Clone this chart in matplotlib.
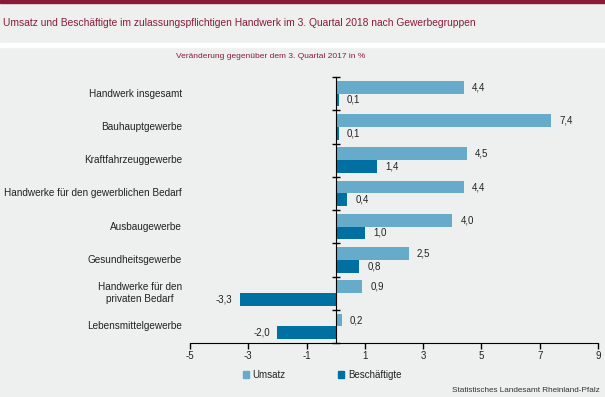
import matplotlib.pyplot as plt
from matplotlib.patches import Patch
from matplotlib.transforms import blended_transform_factory

plt.rcParams["font.family"] = ["Liberation Sans", "DejaVu Sans"]

categories = [
    "Handwerk insgesamt",
    "Bauhauptgewerbe",
    "Kraftfahrzeuggewerbe",
    "Handwerke für den gewerblichen Bedarf",
    "Ausbaugewerbe",
    "Gesundheitsgewerbe",
    "Handwerke für den\nprivaten Bedarf",
    "Lebensmittelgewerbe",
]
umsatz = [4.4, 7.4, 4.5, 4.4, 4.0, 2.5, 0.9, 0.2]
beschaeftigte = [0.1, 0.1, 1.4, 0.4, 1.0, 0.8, -3.3, -2.0]
x_ticks = [-5, -3, -1, 1, 3, 5, 7, 9]

BG = "#eef0f0"
RED = "#8b1a38"
LIGHT = "#67abca"
DARK = "#0070a3"
TXT = "#222222"

fig = plt.figure(figsize=(6.05, 3.97), dpi=100, facecolor=BG)

# top band and white separator
fig.add_artist(plt.Rectangle((0, 1 - 3 / 397), 1, 3 / 397, transform=fig.transFigure, color=RED))
fig.add_artist(plt.Rectangle((0, 1 - 47 / 397), 1, 4 / 397, transform=fig.transFigure, color="white"))

fig.text(3 / 605, 1 - 23 / 397, "Umsatz und Beschäftigte im zulassungspflichtigen Handwerk im 3. Quartal 2018 nach Gewerbegruppen",
         color=RED, fontsize=7.35, va="center", ha="left")
fig.text(271 / 605, 1 - 57 / 397, "Veränderung gegenüber dem 3. Quartal 2017 in %",
         color=RED, fontsize=6, va="center", ha="center")

ax = fig.add_axes([190 / 605, 1 - 343 / 397, 408 / 605, 266 / 397])
ax.set_facecolor(BG)

y = list(range(len(categories)))
h = 0.38
ax.barh([i - h / 2 for i in y], umsatz, height=h, color=LIGHT)
ax.barh([i + h / 2 for i in y], beschaeftigte, height=h, color=DARK)

def fmt(v):
    return f"{v:.1f}".replace(".", ",")

for i, v in enumerate(umsatz):
    ax.annotate(fmt(v), (v, i - h / 2), xytext=(6, 0), textcoords="offset points",
                va="center", ha="left", fontsize=7, color=TXT)
for i, v in enumerate(beschaeftigte):
    off = 6 if v >= 0 else -5
    ax.annotate(fmt(v), (v, i + h / 2), xytext=(off, 0), textcoords="offset points",
                va="center", ha="left" if v >= 0 else "right", fontsize=7, color=TXT)

ax.set_xlim(-5, 9)
ax.set_ylim(len(categories) - 0.5, -0.5)
ax.set_xticks(x_ticks)
ax.set_xticklabels([str(t) for t in x_ticks], fontsize=7, color=TXT)
ax.tick_params(axis="x", length=4, width=1, color="black", pad=2)

ax.spines["top"].set_visible(False)
ax.spines["right"].set_visible(False)
ax.spines["left"].set_position(("data", 0))
ax.set_yticks([i - 0.5 for i in range(len(categories) + 1)])
ax.set_yticklabels([])
ax.tick_params(axis="y", direction="inout", length=6, width=1, color="black")

tr = blended_transform_factory(fig.transFigure, ax.transData)
for i, c in enumerate(categories):
    ax.text(182 / 605, i, c, transform=tr, ha="right", va="center",
            fontsize=7.2, color=TXT, multialignment="center")

handles = [Patch(color=LIGHT, label="Umsatz"), Patch(color=DARK, label="Beschäftigte")]
fig.legend(handles=handles, loc="center left", bbox_to_anchor=(234 / 605, 1 - 375 / 397),
           ncol=2, frameon=False, fontsize=7, handlelength=0.6, handleheight=0.6,
           handletextpad=0.4, columnspacing=5.4, labelcolor=TXT)

fig.text(600 / 605, 1 - 390 / 397, "Statistisches Landesamt Rheinland-Pfalz",
         color="#333333", fontsize=5.9, ha="right", va="center")

fig.savefig("out.png", dpi=100, facecolor=BG)
